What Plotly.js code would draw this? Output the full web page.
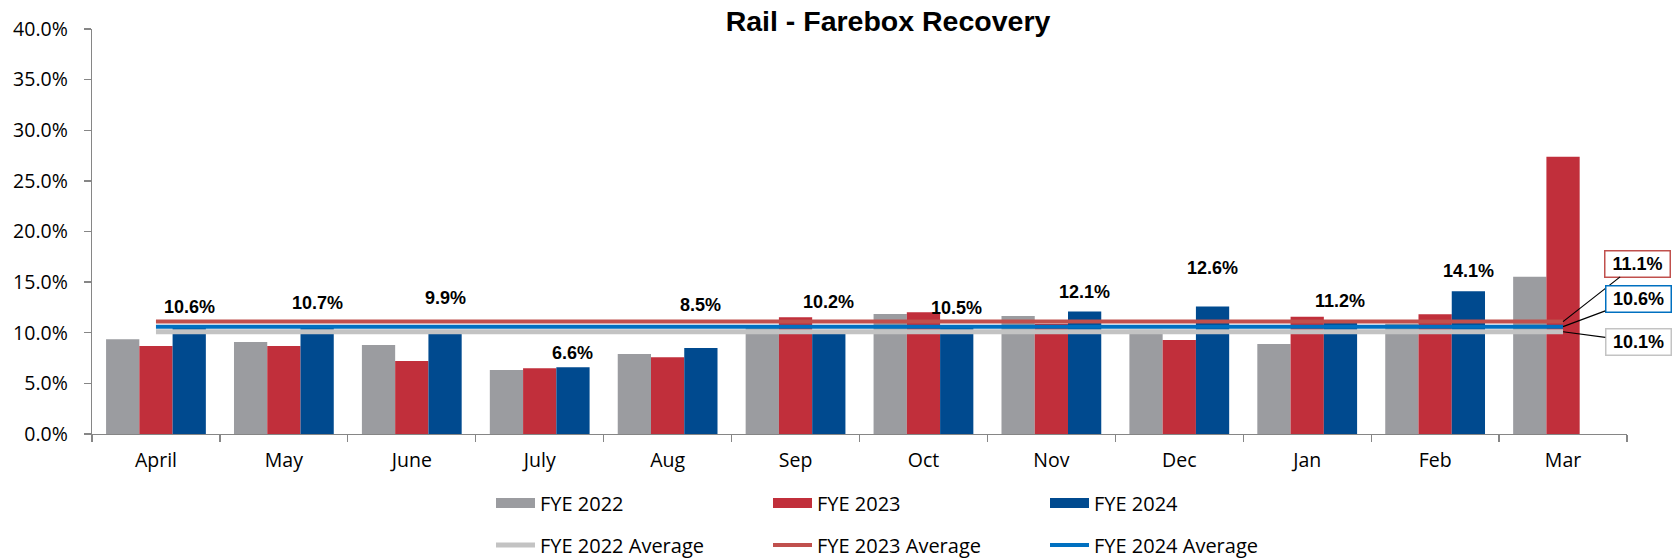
<!DOCTYPE html>
<html>
<head>
<meta charset="utf-8">
<script src="https://cdn.plot.ly/plotly-3.0.1.min.js"></script>
<style>html,body{margin:0;padding:0;background:#fff;}#chart{width:1680px;height:560px;}</style>
</head>
<body>
<div id="chart"></div>
<script>
// ---- data ----
const months = ['April','May','June','July','Aug','Sep','Oct','Nov','Dec','Jan','Feb','Mar'];
const seriesNames = ['FYE 2022','FYE 2023','FYE 2024'];
const fye2022 = [0.0935, 0.0909, 0.0879, 0.0632, 0.0790, 0.1060, 0.1185, 0.1165, 0.1030, 0.0889, 0.1090, 0.1554];
const fye2023 = [0.0869, 0.0869, 0.0721, 0.0649, 0.0757, 0.1152, 0.1202, 0.1090, 0.0928, 0.1159, 0.1182, 0.2739];
const fye2024 = [0.106, 0.107, 0.099, 0.066, 0.085, 0.102, 0.105, 0.121, 0.126, 0.112, 0.141, null];
const avgNames = ['FYE 2022 Average','FYE 2023 Average','FYE 2024 Average'];
const averages = [0.101, 0.111, 0.106];

// ---- styles ----
const barColors = ['#9B9CA0', '#C12F3B', '#004A8F'];
const avgColors = ['#C3C3C3', '#C0504D', '#0070C0'];
const labelLift = [20, 23, 36, 14, 43, 29, 20, 19, 38, 20, 20, 0]; // px above bar top (label centre)
const calloutOffsets = [[75, 10], [74, -58], [75, -28]]; // ax, ay for 2022, 2023, 2024
const tickFont = {family: 'Open Sans, Noto Sans, sans-serif', size: 19.5, color: '#000'};
const boldFont = {family: 'Liberation Sans, Arial, sans-serif', size: 18, color: '#000', weight: 'bold'};

const M = {l: 92, r: 53, t: 29, b: 126};
const W = 1680, H = 560;
const bargap = 0.22;
const plotW = W - M.l - M.r;
const barW = plotW / months.length * (1 - bargap) / 3;

const series = [fye2022, fye2023, fye2024];
const traces = [];
series.forEach((vals, i) => {
  traces.push({
    type: 'bar', x: months, y: vals, name: seriesNames[i],
    marker: {color: barColors[i], line: {width: 0}},
    showlegend: false, hoverinfo: 'x+y'
  });
});
averages.forEach((a, i) => {
  traces.push({
    type: 'scatter', mode: 'lines', x: months, y: months.map(() => a),
    name: avgNames[i], line: {color: avgColors[i], width: i === 0 ? 5 : 4},
    legend: 'legend2', showlegend: true
  });
});
// legend swatches for the bar series
seriesNames.forEach((n, i) => {
  traces.push({
    type: 'scatter', mode: 'lines', x: [null], y: [null], name: n,
    line: {color: barColors[i], width: 13}, legend: 'legend', showlegend: true, hoverinfo: 'skip'
  });
});

const annotations = [];
fye2024.forEach((v, i) => {
  if (v === null) return;
  annotations.push({
    x: months[i], y: v, xref: 'x', yref: 'y', xshift: barW, yshift: labelLift[i],
    text: (v * 100).toFixed(1) + '%', showarrow: false, yanchor: 'middle', xanchor: 'center',
    font: boldFont
  });
});
averages.forEach((a, i) => {
  annotations.push({
    x: months[months.length - 1], y: a, xref: 'x', yref: 'y',
    text: (a * 100).toFixed(1) + '%', showarrow: true, arrowhead: 0, arrowwidth: 1.2, arrowcolor: '#000',
    ax: calloutOffsets[i][0], ay: calloutOffsets[i][1],
    bordercolor: avgColors[i], borderwidth: 1.5, borderpad: 1, bgcolor: '#fff',
    width: 62, height: 23, font: boldFont
  });
});

const legendCommon = {
  orientation: 'h', xref: 'container', yref: 'container', yanchor: 'middle', xanchor: 'left',
  entrywidth: 223, entrywidthmode: 'pixels', itemwidth: 39, traceorder: 'normal',
  font: {family: 'Open Sans, Noto Sans, sans-serif', size: 20, color: '#000'}, bgcolor: 'rgba(0,0,0,0)'
};

const layout = {
  width: W, height: H, margin: M,
  paper_bgcolor: '#fff', plot_bgcolor: '#fff',
  title: {text: 'Rail - Farebox Recovery', xref: 'container', x: 888 / W, xanchor: 'center',
          yref: 'container', y: 1 - 21 / H, yanchor: 'middle',
          font: {family: 'Liberation Sans, Arial, sans-serif', size: 28.5, color: '#000', weight: 'bold'}},
  barmode: 'group', bargap: bargap, bargroupgap: 0,
  xaxis: {type: 'category', range: [-0.5, months.length - 0.5], autorange: false,
          tickson: 'boundaries', ticks: 'outside', ticklen: 7, tickcolor: '#868686', tickwidth: 1.3,
          showline: true, linecolor: '#868686', linewidth: 1.3, showgrid: false, zeroline: false,
          tickfont: tickFont, ticklabelstandoff: 8},
  yaxis: {range: [0, 0.4], autorange: false, dtick: 0.05, tickformat: '.1%', ticks: 'outside', ticklen: 7, tickcolor: '#868686', tickwidth: 1.3,
          showline: true, linecolor: '#868686', linewidth: 1.3, showgrid: false, zeroline: false,
          tickfont: tickFont, ticklabelstandoff: 12},
  legend: Object.assign({}, legendCommon, {x: 491 / W, y: 1 - 503 / H}),
  legend2: Object.assign({}, legendCommon, {x: 491 / W, y: 1 - 545 / H}),
  annotations: annotations,
  showlegend: true
};

Plotly.newPlot('chart', traces, layout, {displayModeBar: false, staticPlot: true});
</script>
</body>
</html>
